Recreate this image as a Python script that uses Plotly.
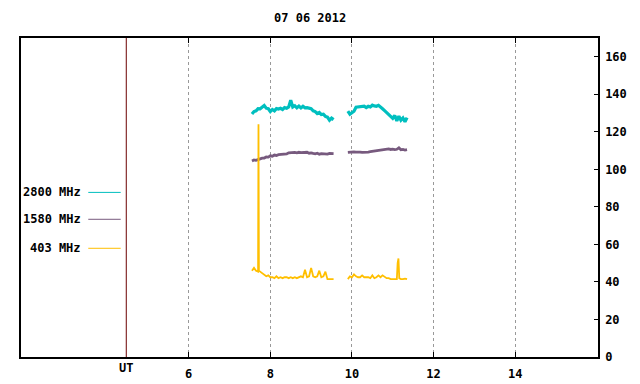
import numpy as np
import plotly.graph_objects as go

# ---------------- data ----------------
title_text = "07 06 2012"
x_ticks = [6, 8, 10, 12, 14]
y_ticks = [0, 20, 40, 60, 80, 100, 120, 140, 160]
ut_hour = 4.47

seg1_times = [round(7.55 + 0.05 * i, 2) for i in range(41)]
seg2_times = [round(9.90 + 0.05 * i, 2) for i in range(30)]

mhz2800_seg1 = [129.5, 130.8, 131.2, 132.4, 132.3, 133.4, 134.0, 132.6, 132.3, 130.8,
                131.9, 131.2, 132.4, 132.1, 132.5, 131.9, 132.9, 132.6, 133.3, 136.8,
                133.2, 133.9, 132.8, 133.7, 132.7, 133.6, 132.8, 132.9, 132.6, 132.3,
                131.2, 130.8, 129.7, 130.3, 129.2, 129.4, 128.2, 127.8, 126.2, 127.3, 126.5]
mhz2800_seg2 = [131.0, 129.4, 130.2, 131.0, 133.1, 133.3, 133.2, 133.4, 133.7, 132.9,
                133.6, 133.3, 134.2, 133.8, 133.6, 134.1, 132.9, 132.3, 131.3, 130.2,
                129.3, 128.2, 127.2, 128.7, 125.8, 128.3, 126.2, 127.4, 125.3, 127.6]

mhz1580_seg1 = [104.5, 105.0, 104.8, 105.4, 105.6, 106.0, 106.0, 106.6, 106.5, 107.2,
                107.0, 107.6, 107.4, 107.8, 107.9, 107.8, 108.3, 108.2, 108.8, 108.9,
                108.7, 109.0, 108.8, 109.1, 108.9, 109.0, 108.8, 109.1, 108.6, 108.8,
                108.5, 108.3, 108.6, 108.1, 108.4, 108.2, 108.3, 108.1, 108.5, 108.6, 108.4]
mhz1580_seg2 = [109.0, 109.2, 109.1, 109.3, 109.2, 109.0, 109.2, 109.1, 109.0, 109.3,
                109.2, 109.4, 109.6, 109.5, 109.8, 110.0, 110.3, 110.6, 110.8, 110.7,
                110.9, 110.6, 110.8, 110.5, 110.7, 111.5, 110.4, 110.6, 110.3, 110.5]

mhz403_times = [7.55, 7.60, 7.65, 7.70, 7.71, 7.72, 7.75, 7.80, 7.85, 7.90, 7.95, 8.00,
                8.05, 8.10, 8.15, 8.20, 8.25, 8.30, 8.35, 8.40, 8.45, 8.50, 8.55, 8.60,
                8.65, 8.70, 8.75, 8.80, 8.85, 8.90, 8.95, 9.00, 9.05, 9.10, 9.15, 9.20,
                9.25, 9.30, 9.35, 9.40, 9.45, 9.50, 9.55,
                None,
                9.90, 9.95, 10.00, 10.05, 10.10, 10.15, 10.20, 10.25, 10.30, 10.35, 10.40,
                10.45, 10.50, 10.55, 10.60, 10.65, 10.70, 10.75, 10.80, 10.85, 10.90,
                10.95, 11.00, 11.05, 11.10, 11.12, 11.14, 11.16, 11.20, 11.25, 11.30, 11.35]
mhz403_values = [46.0, 47.5, 46.0, 45.5, 124.0, 46.0, 45.5, 44.5, 44.0, 43.0, 43.5, 42.5,
                 42.5, 42.0, 43.0, 42.0, 42.5, 42.0, 42.5, 42.5, 42.0, 42.5, 42.0, 42.5,
                 42.0, 42.5, 43.0, 42.5, 46.5, 42.5, 43.0, 47.5, 43.0, 42.5, 43.0, 46.0,
                 42.5, 43.0, 45.5, 41.5, 41.5, 41.5, 41.5,
                 None,
                 41.5, 43.0, 42.5, 44.0, 43.0, 42.5, 42.5, 43.5, 42.5, 42.5, 42.5,
                 42.0, 43.5, 42.0, 42.5, 43.5, 42.5, 43.5, 42.5, 42.0, 42.0,
                 41.5, 41.5, 41.5, 41.5, 50.0, 52.5, 42.0, 41.5, 41.5, 41.8, 41.5]

legend_names = ["2800 MHz", "1580 MHz", "403 MHz"]
colors = ["#00bfbf", "#775a7e", "#ffbf00"]

# ---------------- figure ----------------
times12 = seg1_times + [None] + seg2_times
fig = go.Figure()
fig.add_trace(go.Scatter(x=times12, y=mhz2800_seg1 + [None] + mhz2800_seg2, mode="lines",
                         line=dict(color=colors[0], width=3.2), connectgaps=False))
fig.add_trace(go.Scatter(x=times12, y=mhz1580_seg1 + [None] + mhz1580_seg2, mode="lines",
                         line=dict(color=colors[1], width=2.8), connectgaps=False))
fig.add_trace(go.Scatter(x=mhz403_times, y=mhz403_values, mode="lines",
                         line=dict(color=colors[2], width=1.8), connectgaps=False))

font = dict(family="DejaVu Sans Mono", size=12, color="black", weight="bold")

# the page body has an 8px margin, so the figure is sized to fit the 640x384 window
fig.update_layout(
    width=632, height=376,
    margin=dict(l=13, r=42, t=30, b=27, autoexpand=False),
    paper_bgcolor="white", plot_bgcolor="white",
    showlegend=False, font=font,
    xaxis=dict(range=[1.89, 16.03], tickvals=x_ticks, ticktext=[str(v) for v in x_ticks],
               ticks="inside", ticklen=5, tickcolor="black", tickwidth=1,
               showline=True, linecolor="black", linewidth=1.5, mirror="ticks",
               showgrid=True, gridcolor="#999999", griddash="3px,3px", gridwidth=1,
               zeroline=False, ticklabelstandoff=5, tickfont=font),
    yaxis=dict(range=[0, 170], tickvals=y_ticks, side="right",
               ticks="inside", ticklen=4, tickcolor="black",
               showline=True, linecolor="black", linewidth=1.5, mirror=True,
               showgrid=False, zeroline=False, ticklabelstandoff=3, tickfont=font),
)

# UT marker line
fig.add_shape(type="line", xref="x", yref="paper", x0=ut_hour, x1=ut_hour, y0=0, y1=1,
              line=dict(color="#6b0000", width=1))
fig.add_annotation(x=ut_hour, xref="x", y=0, yref="paper", yanchor="top", yshift=-2,
                   text="UT", showarrow=False, font=font)

# title
fig.add_annotation(x=0.5, xref="paper", y=1, yref="paper", yanchor="bottom", yshift=11,
                   text=title_text, showarrow=False, font=font)

# legend (text then sample line)
legend_y = [0.516, 0.4317, 0.3408]
for name, col, ly in zip(legend_names, colors, legend_y):
    fig.add_annotation(x=0.108, xref="paper", y=ly, yref="paper", xanchor="right",
                       yanchor="middle", text=name, showarrow=False, font=font)
    fig.add_shape(type="line", xref="paper", yref="paper", x0=0.1166, x1=0.1728,
                  y0=ly, y1=ly, line=dict(color=col, width=1))

fig.write_html("out.html")
